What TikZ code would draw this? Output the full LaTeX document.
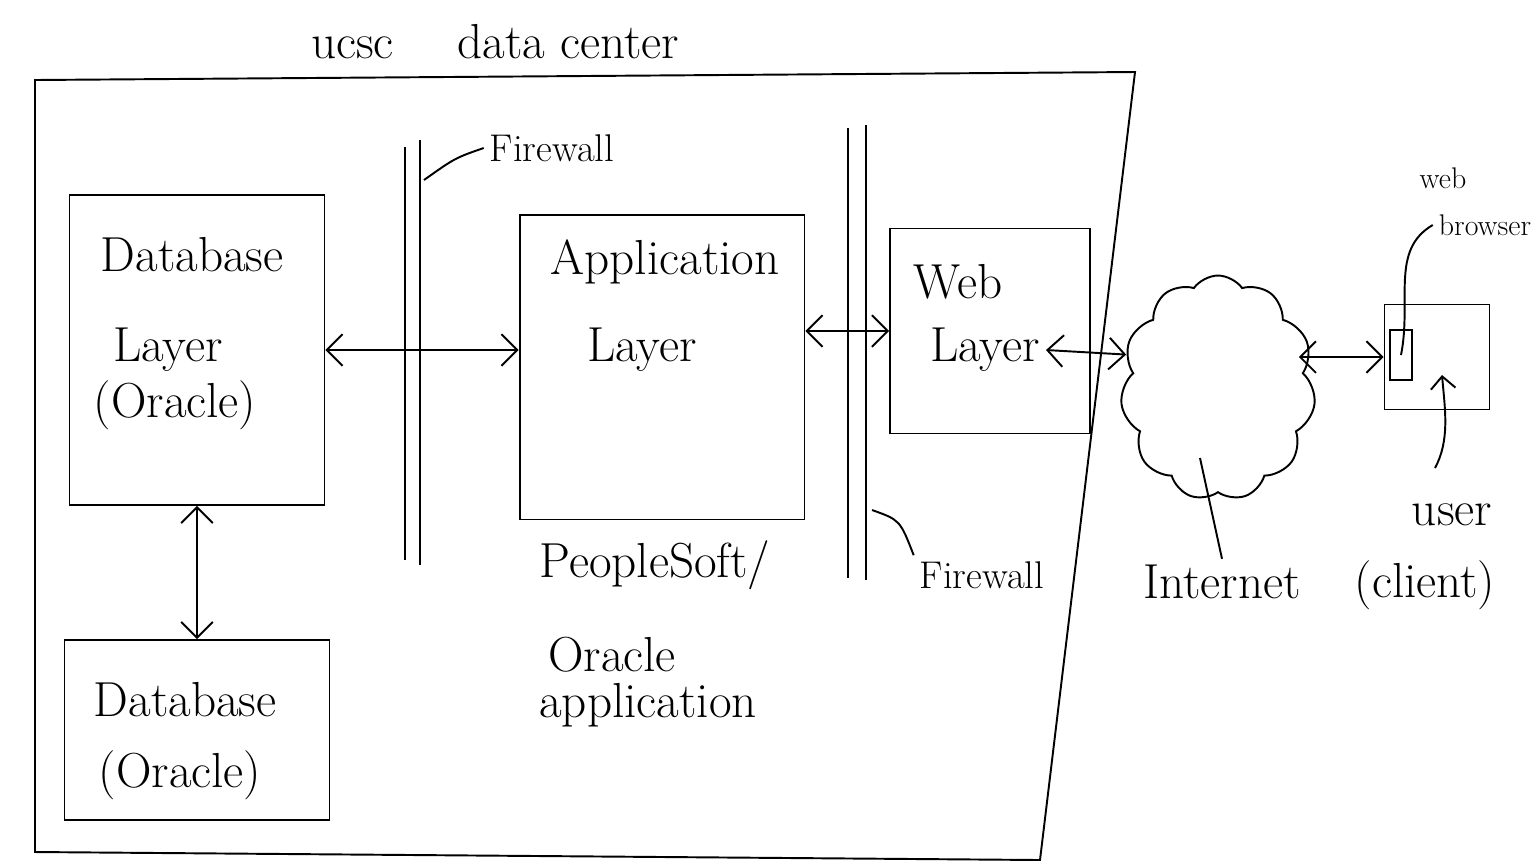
\documentclass[tikz,border=0pt]{standalone}
\usetikzlibrary{arrows.meta,shapes.symbols}

\tikzset{
  pen/.style={line width=1.1pt},
  layerbox/.style={draw, pen, inner sep=0pt},
  big/.style={font=\fontsize{28}{32}\selectfont},
  mid/.style={font=\fontsize{22}{26}\selectfont},
  small/.style={font=\fontsize{17}{20}\selectfont},
  link/.style={pen, <->, >={Straight Barb[length=9pt,width=18pt]}},
}

\begin{document}
\begin{tikzpicture}[x=0.02cm, y=-0.02cm]
            \useasboundingbox (0,0) rectangle (1534,867);

            \node[big] (title) at (495,42) {ucsc\quad\ data center};
            \draw[pen] (35,80) -- (1135,72) -- (1040,860) -- (35,852) -- cycle;

            \draw[pen] (405,147) -- (405,560);
            \draw[pen] (420,140) -- (420,565);
            \draw[pen] (848,128) -- (848,578);
            \draw[pen] (866,125) -- (866,580);

            \node[layerbox, minimum width=5.1cm, minimum height=6.2cm] (dbl) at (197,350) {};
            \node[big] (dblname) at (192,255) {Database};
            \node[big] (dbllayer) at (168,350) {Layer};
            \node[big] (dblora) at (175,405) {(Oracle)};

            \node[layerbox, minimum width=5.7cm, minimum height=6.1cm] (app) at (662,367) {};
            \node[big] (appname) at (665,262) {Application};
            \node[big] (applayer) at (642,350) {Layer};

            \node[layerbox, minimum width=4cm, minimum height=4.1cm] (web) at (990,331) {};
            \node[big] (webname) at (958,282) {Web};
            \node[big] (weblayer) at (985,350) {Layer};

            \node[layerbox, minimum width=5.3cm, minimum height=3.6cm] (db) at (197,730) {};
            \node[big] (dbname) at (185,700) {Database};
            \node[big] (dbora) at (180,775) {(Oracle)};

            \node[big] (ps) at (655,565) {PeopleSoft/};
            \node[big] (psora) at (612,655) {Oracle};
            \node[big] (psapp) at (648,705) {application};

            \node[mid] (fwtop) at (552,148) {Firewall};
            \node[mid] (fwbot) at (982,575) {Firewall};
            \coordinate (fwtoptip) at (424,180);
            \coordinate (fwbottip) at (872,510);
            \draw[pen] (fwtop.west) .. controls (455,158) .. (fwtoptip);
            \draw[pen] (fwbot.north west) .. controls (900,520) .. (fwbottip);

            \node[draw, pen, cloud, cloud puffs=11, cloud puff arc=110, aspect=0.85,
                  minimum width=3.9cm, minimum height=4.5cm] (inet) at (1218,388) {};
            \node[big] (inetname) at (1222,582) {Internet};
            \coordinate (inettip) at (1200,458);
            \draw[pen] (inettip) -- (inetname.north);

            \node[layerbox, minimum width=2.1cm, minimum height=2.1cm] (client) at (1437,357) {};
            \node[layerbox, minimum width=0.44cm, minimum height=1cm] (brw) at (1401,355) {};

            \node[small] (webword) at (1443,178) {web};
            \node[small] (brwword) at (1485,225) {browser};
            \draw[pen] (brwword.west) .. controls (1390,250) and (1412,300) .. (brw.center);

            \node[big] (user) at (1452,515) {user};
            \node[big] (userclient) at (1425,585) {(client)};
            \coordinate (userfoot) at (1435,468);
            \coordinate (usertip) at (1442,375);
            \draw[pen, -{Straight Barb[length=7pt,width=14pt]}] (userfoot) .. controls (1450,440) and (1445,410) .. (usertip);

            \draw[link] (dbl.east) -- (dbl.east -| app.west);
            \draw[link] (web.west -| app.east) -- (web.west);
            \draw[link] (weblayer.east) -- (inet.160);
            \draw[link] ([xshift=-0.3cm]inet.east |- client.west) -- (client.west);
            \draw[link] (dbl.south) -- (db.north);
        \end{tikzpicture}
\end{document}
